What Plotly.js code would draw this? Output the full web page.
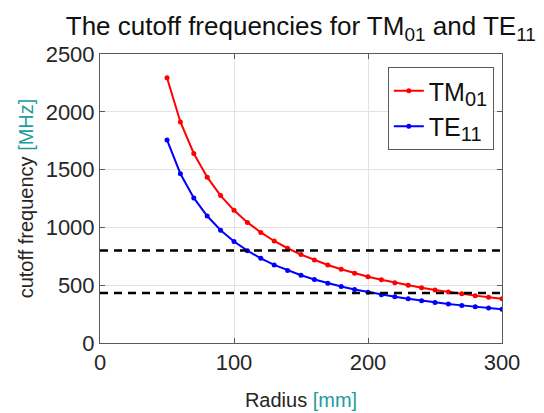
<!DOCTYPE html>
<html>
<head>
<meta charset="utf-8">
<script src="https://cdn.plot.ly/plotly-3.0.1.min.js"></script>
<style>html,body{margin:0;padding:0;background:#fff}#chart{width:544px;height:413px}</style>
</head>
<body>
<div id="chart"></div>
<script>
const radius = [50,60,70,80,90,100,110,120,130,140,150,160,170,180,190,200,210,220,230,240,250,260,270,280,290,300];
const tm01 = [2294.8,1912.4,1639.2,1434.3,1274.9,1147.4,1043.1,956.2,882.6,819.6,764.9,717.1,675.0,637.5,603.9,573.7,546.4,521.6,498.9,478.1,459.0,441.3,425.0,409.8,395.7,382.5];
const te11 = [1757.0,1464.2,1255.0,1098.1,976.1,878.5,798.6,732.1,675.8,627.5,585.7,549.1,516.8,488.1,462.4,439.3,418.3,399.3,382.0,366.0,351.4,337.9,325.4,313.8,302.9,292.8];
const refLevels = [800, 433];
const refX = [0, 300];
const xTicks = [0, 100, 200, 300];
const yTicks = [0, 500, 1000, 1500, 2000, 2500];

const FONT = "Liberation Sans, Arial, Helvetica, sans-serif";
const TEAL = "#229c9c";
const sub = (t, px) => "<sub><span style='font-size:" + px + "px'>" + t + "</span></sub>";

const traces = [
  {x: radius, y: tm01, name: "TM" + sub("01", 20), mode: "lines+markers",
   line: {color: "#ff0000", width: 2}, marker: {color: "#ff0000", size: 5}},
  {x: radius, y: te11, name: "TE" + sub("11", 20), mode: "lines+markers",
   line: {color: "#0000ff", width: 2}, marker: {color: "#0000ff", size: 5}}
];
refLevels.forEach(v => traces.push({
  x: refX, y: [v, v], mode: "lines", showlegend: false, hoverinfo: "skip",
  line: {color: "#000000", width: 2.5, dash: "8px,6px"}
}));

const axisCommon = {
  showline: true, mirror: "allticks", linecolor: "#5a5a5a", linewidth: 1,
  ticks: "inside", ticklen: 5, tickcolor: "#5a5a5a",
  showgrid: true, gridcolor: "#e3e3e3", gridwidth: 1, zeroline: false,
  tickfont: {family: FONT, size: 22, color: "#262626"}
};

const layout = {
  width: 544, height: 413,
  margin: {l: 100, r: 42, t: 54, b: 70},
  paper_bgcolor: "#ffffff", plot_bgcolor: "#ffffff",
  font: {family: FONT},
  title: {text: "The cutoff frequencies for TM" + sub("01", 19) + " and TE" + sub("11", 19),
          font: {family: FONT, size: 26, color: "#111111"},
          x: 0.553, xanchor: "center", xref: "container",
          y: 0.915, yanchor: "bottom", yref: "container"},
  xaxis: Object.assign({}, axisCommon, {
    range: [0, 300], tickvals: xTicks, ticktext: xTicks.map(String),
    title: {text: "Radius <span style='fill:" + TEAL + "'>[mm]</span>",
            font: {family: FONT, size: 20, color: "#262626"}, standoff: 18}
  }),
  yaxis: Object.assign({}, axisCommon, {
    range: [0, 2500], tickvals: yTicks, ticktext: yTicks.map(String),
    title: {text: "cutoff frequency <span style='fill:" + TEAL + "'>[MHz]</span>",
            font: {family: FONT, size: 20, color: "#262626"}, standoff: 6}
  }),
  legend: {
    x: 0.716, y: 0.955, xanchor: "left", yanchor: "top",
    bgcolor: "#ffffff", bordercolor: "#5a5a5a", borderwidth: 1,
    font: {family: FONT, size: 25, color: "#111111"},
    itemwidth: 30, tracegroupgap: 0
  },
  showlegend: true
};

Plotly.newPlot("chart", traces, layout, {staticPlot: true, displayModeBar: false});
</script>
</body>
</html>
